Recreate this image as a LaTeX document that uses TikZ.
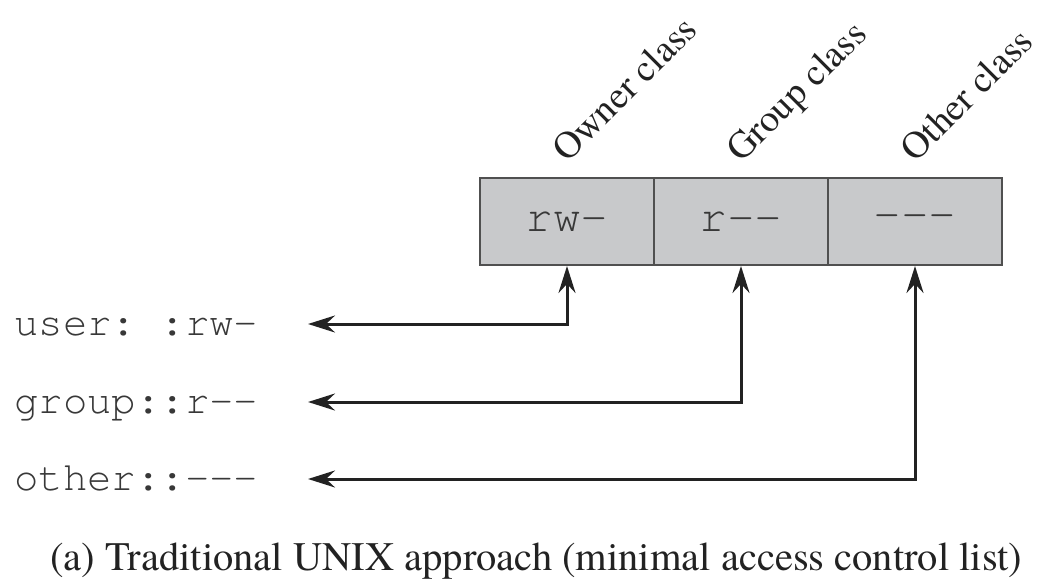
\documentclass[tikz,border=0pt]{standalone}
\usepackage{fontspec}
\setmainfont{TeX Gyre Termes}
\setmonofont{TeX Gyre Cursor}
\usetikzlibrary{arrows.meta}
\definecolor{cellfill}{HTML}{C8C9CB}
\definecolor{cellline}{HTML}{505050}
\definecolor{ink}{HTML}{222222}
\tikzset{
  cell/.style={draw=cellline, line width=2pt, fill=cellfill, minimum width=174pt, minimum height=87pt, inner sep=0pt, text=ink!90,
    font=\ttfamily\fontsize{46}{50}\selectfont},
  acl/.style={anchor=base west, inner sep=0pt, text=ink!90, font=\ttfamily\fontsize{40.7}{46}\selectfont},
  cls/.style={anchor=base west, inner sep=0pt, rotate=45, text=ink, font=\fontsize{38}{44}\selectfont},
  conn/.style={draw=ink, line width=3pt, {Stealth[length=27pt,width=17pt,inset=9pt]}-{Stealth[length=27pt,width=17pt,inset=9pt]}},
}
\begin{document}
\begin{tikzpicture}[x=1pt,y=-1pt]
\useasboundingbox (0,0) rectangle (1042,583);
\node[cell] (c1) at (567,221.5) {rw-};
\node[cell] (c2) at (741,221.5) {r--};
\node[cell] (c3) at (915,221.5) {---};
\node[cls] (t1) at (567,164) {Owner class};
\node[cls] (t2) at (741,164) {Group class};
\node[cls] (t3) at (915,164) {Other class};
\node[acl] (l1) at (14,335) {user: :rw-};
\node[acl] (l2) at (14,413) {group::r--};
\node[acl] (l3) at (14,490) {other::---};
\coordinate (e1) at (308,324);
\coordinate (e2) at (308,402);
\coordinate (e3) at (308,479);
\draw[conn] (c1.south) |- (e1);
\draw[conn] (c2.south) |- (e2);
\draw[conn] (c3.south) |- (e3);
\node[anchor=base, inner sep=0pt, text=ink, font=\fontsize{40.5}{44}\selectfont] (cap) at (536,570) {(a) Traditional UNIX approach (minimal access control list)};
\end{tikzpicture}
\end{document}
